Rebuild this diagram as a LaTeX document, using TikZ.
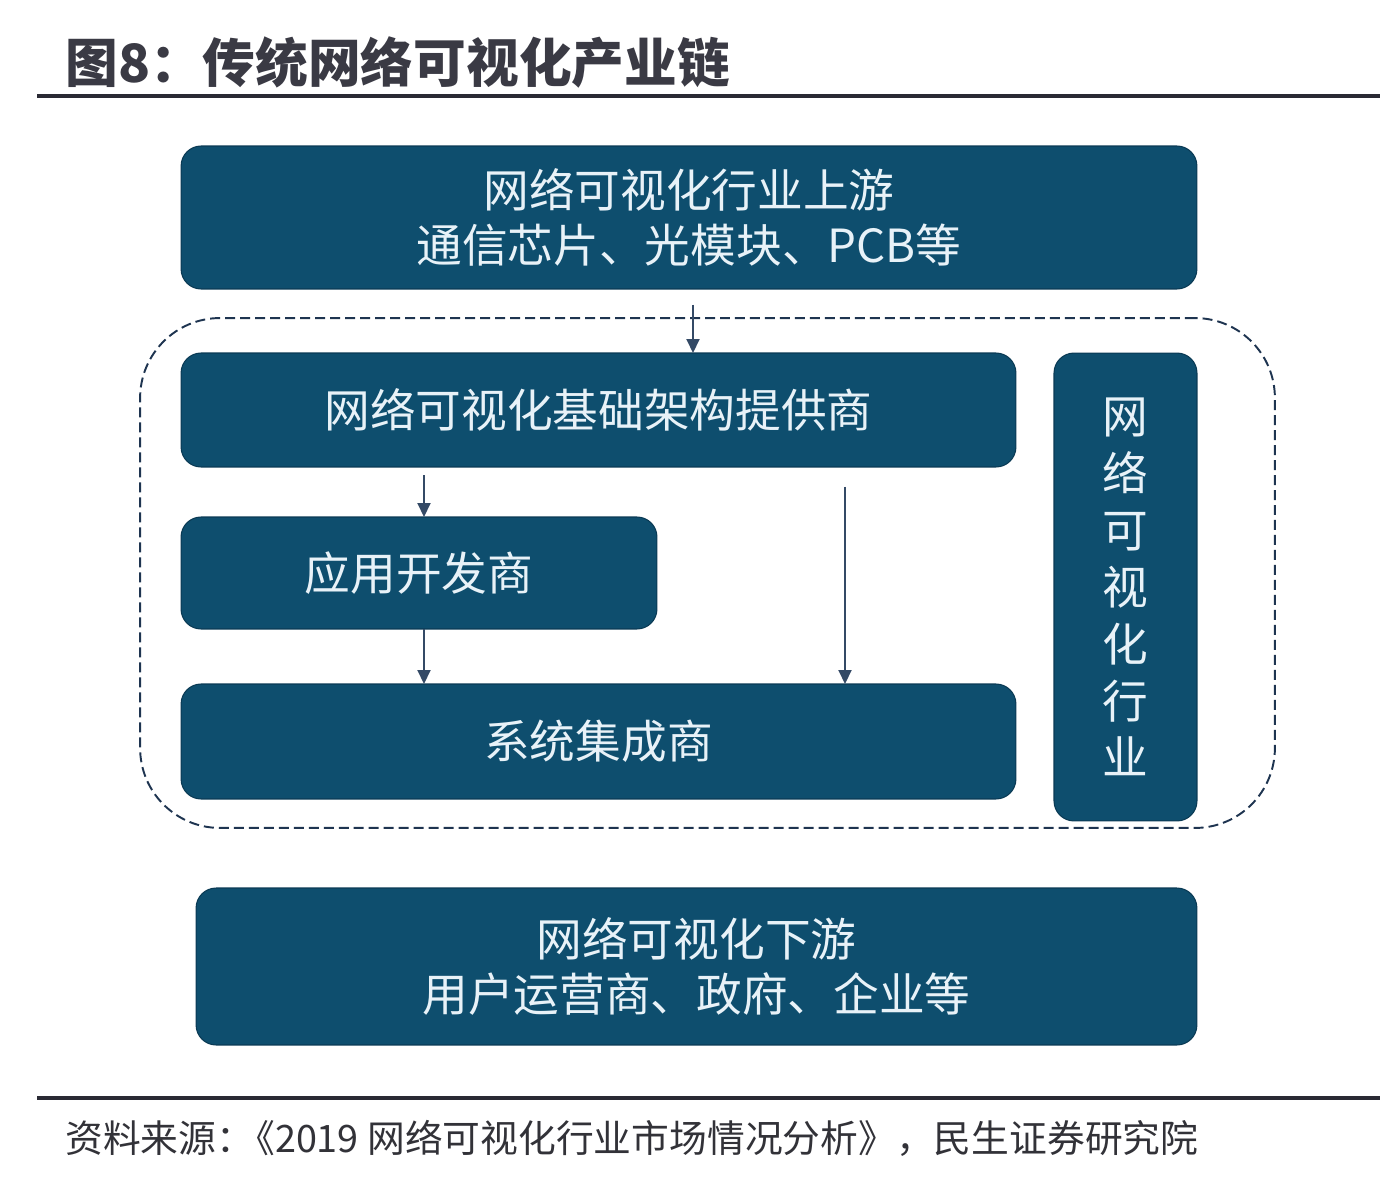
\documentclass[tikz,border=0pt]{standalone}
\usepackage{fontspec}
\newfontfamily\cjk{Noto Sans CJK SC}
\usetikzlibrary{arrows.meta, positioning}

\definecolor{vizblue}{RGB}{14,78,110}
\definecolor{vizedge}{RGB}{10,58,84}
\definecolor{boxtext}{RGB}{232,242,248}
\definecolor{titlegray}{RGB}{58,58,68}
\definecolor{rulegray}{RGB}{42,42,52}
\definecolor{framecol}{RGB}{30,52,80}
\definecolor{arrowcol}{RGB}{52,74,102}
\definecolor{notegray}{RGB}{50,50,56}

\begin{document}
\begin{tikzpicture}[
        x=0.02cm, y=-0.02cm,
        stage/.style={draw=vizedge, line width=0.6pt, fill=vizblue, rounded corners=0.4cm,
            text=boxtext, align=center, inner sep=0pt, outer sep=0pt,
            font={\cjk\fontsize{26}{31}\selectfont}},
        frame/.style={draw=framecol, line width=1.1pt, dash pattern=on 0.2cm off 0.1cm,
            rounded corners=1.6cm, minimum width=22.7cm, minimum height=10.2cm, inner sep=0pt},
        arrow/.style={-{Triangle[length=0.28cm, width=0.26cm]}, draw=arrowcol, fill=arrowcol, line width=1.1pt},
        rule/.style={draw=rulegray, line width=0.08cm}
    ]
    \useasboundingbox (0,0) rectangle (1380,1186);

    % Title and rules
    \node[anchor=west, inner sep=0pt, text=titlegray, font={\cjk\bfseries\fontsize{30}{36}\selectfont}]
        (title) at (65, 62) {图8：传统网络可视化产业链};
    \draw[rule] (37, 96) -- (1380, 96);
    \draw[rule] (37, 1098) -- (1380, 1098);

    % Upstream
    \node[stage, minimum width=20.32cm, minimum height=2.86cm] (up) at (689, 217.5)
        {网络可视化行业上游\\通信芯片、光模块、PCB等};

    % Industry frame
    \node[frame] (core) at (707.5, 573) {};

    % Inside the industry
    \node[stage, minimum width=16.7cm, minimum height=2.28cm] (infra) at (598.5, 410) {网络可视化基础架构提供商};
    \node[stage, minimum width=9.52cm, minimum height=2.24cm] (app) at (419, 573) {应用开发商};
    \node[stage, minimum width=16.7cm, minimum height=2.3cm] (integ) at (598.5, 741.5) {系统集成商};
    \node[stage, minimum width=2.86cm, minimum height=9.36cm, font={\cjk\fontsize{26}{32.4}\selectfont}]
        (industry) at (1125.5, 587) {网\\络\\可\\视\\化\\行\\业};

    % Downstream
    \node[stage, minimum width=20.02cm, minimum height=3.14cm] (down) at (696.5, 966.5)
        {网络可视化下游\\用户运营商、政府、企业等};

    % Arrows
    \coordinate (upout) at (693, 289);
    \coordinate (tap) at (845, 467);
    \coordinate (appin) at (424, 467);
    \draw[arrow, shorten <=0.32cm] (upout) -- (upout |- infra.north);
    \draw[arrow, shorten <=0.16cm] (appin) -- (appin |- app.north);
    \draw[arrow] (appin |- app.south) -- (appin |- integ.north);
    \draw[arrow, shorten <=0.4cm] (tap) -- (tap |- integ.north);

    % Source note
    \node[anchor=west, inner sep=0pt, text=notegray, font={\cjk\fontsize{21.5}{26}\selectfont}]
        (source) at (65, 1138) {资料来源：\kern-0.45em《2019 网络可视化行业市场情况分析》，民生证券研究院};

\end{tikzpicture}
\end{document}
